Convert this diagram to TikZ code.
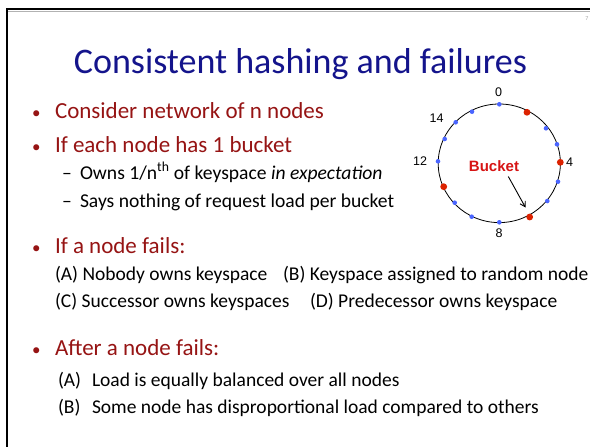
\documentclass[tikz,border=0pt]{standalone}
\usepackage{fontspec}
\setmainfont{Carlito}
\newfontfamily\arialfont{Liberation Sans}
\usetikzlibrary{arrows.meta}
\definecolor{titleblue}{RGB}{20,20,140}
\definecolor{bulletred}{RGB}{150,20,20}
\definecolor{dotblue}{RGB}{74,101,255}
\definecolor{dotred}{RGB}{220,34,0}
\definecolor{bucketred}{RGB}{215,20,20}
\tikzset{
  txt/.style={anchor=base west, inner sep=0pt, outer sep=0pt},
  titletxt/.style={anchor=base, inner sep=0pt, text=titleblue, font=\fontsize{36}{40}\selectfont},
  lvlone/.style={txt, text=bulletred, font=\fontsize{23}{27}\selectfont},
  bmark/.style={txt, text=bulletred, font=\fontsize{17}{20}\selectfont},
  lvltwo/.style={txt, text=black, font=\fontsize{19.6}{23}\selectfont},
  opt/.style={txt, text=black, font=\fontsize{19.5}{23}\selectfont},
  ringlbl/.style={inner sep=0pt, font=\arialfont\fontsize{12.5}{14}\selectfont},
  bdot/.style={circle, fill=dotblue, inner sep=0pt, minimum size=4.6pt},
  rdot/.style={circle, fill=dotred, inner sep=0pt, minimum size=6.8pt},
  arr/.style={-{Straight Barb[length=5pt,width=6pt]}, line width=0.9pt},
}
\begin{document}
\begin{tikzpicture}[x=1pt,y=-1pt]
\useasboundingbox (0,0) rectangle (590,447);
\fill[white] (0,0) rectangle (590,447);
% slide frame
\draw[line width=2.5pt, black] (7,447) -- (7,9) -- (590,9);
\draw[line width=0.6pt, black!30] (8.3,10.8) -- (590,10.8);
\node[inner sep=0pt, text=black!35, font=\fontsize{6}{7}\selectfont] (pgnum) at (587,19) {7};
% title
\node[titletxt] (title) at (300.5,74) {Consistent hashing and failures};
% bullets
\node[bmark] (m1) at (32,118) {•};
\node[lvlone] (t1) at (55,118) {Consider network of n nodes};
\node[bmark] (m2) at (32,152) {•};
\node[lvlone] (t2) at (55,152) {If each node has 1 bucket};
\node[lvltwo] (s1m) at (62,179) {–};
\node[lvltwo] (s1) at (80,179) {Owns 1/n\textsuperscript{th} of keyspace \textit{in expectation}};
\node[lvltwo] (s2m) at (62,207) {–};
\node[lvltwo] (s2) at (80,207) {Says nothing of request load per bucket};
\node[bmark] (m3) at (32,253) {•};
\node[lvlone] (t3) at (55,253) {If a node fails:};
\node[opt] (oA) at (55,280.5) {(A) Nobody owns keyspace};
\node[opt] (oB) at (283,280.5) {(B) Keyspace assigned to random node};
\node[opt] (oC) at (55,307.5) {(C) Successor owns keyspaces};
\node[opt] (oD) at (310,307.5) {(D) Predecessor owns keyspace};
\node[bmark] (m4) at (32,355) {•};
\node[lvlone] (t4) at (55,355) {After a node fails:};
\node[opt] (pA) at (58,386) {(A)};
\node[opt] (pAt) at (92,386) {Load is equally balanced over all nodes};
\node[opt] (pB) at (58,413) {(B)};
\node[opt] (pBt) at (92,413) {Some node has disproportional load compared to others};
% ring
\draw[line width=0.8pt] (499.3,163.3) ellipse [x radius=61.1, y radius=59.3];
\foreach \n/\x/\y in {a/499.3/104.3, c/546/128.3, d/557/144.3, f/558/181.7, g/547.3/201,
  i/499.3/222.3, j/471.7/216.7, k/454.7/202.7, m/438/161.3, n/444.7/139, o/455.7/122.3, p/472/111.7}
  \node[bdot] (d\n) at (\x,\y) {};
\foreach \n/\x/\y in {b/527/112.3, e/560.3/162.3, h/529.7/217, l/443.7/186.7}
  \node[rdot] (d\n) at (\x,\y) {};
\node[ringlbl] (l0) at (498.5,92.5) {0};
\node[ringlbl] (l4) at (569.5,162) {4};
\node[ringlbl] (l8) at (499,233.5) {8};
\node[ringlbl] (l12) at (420,161) {12};
\node[ringlbl] (l14) at (436.5,118) {14};
\node[inner sep=0pt, text=bucketred, font=\arialfont\bfseries\fontsize{15}{17}\selectfont] (bucket) at (494,166.5) {Bucket};
\coordinate (arrS) at (508.3,176.5);
\coordinate (arrE) at (525.5,207.5);
\draw[arr] (arrS) -- (arrE);
\end{tikzpicture}
\end{document}
